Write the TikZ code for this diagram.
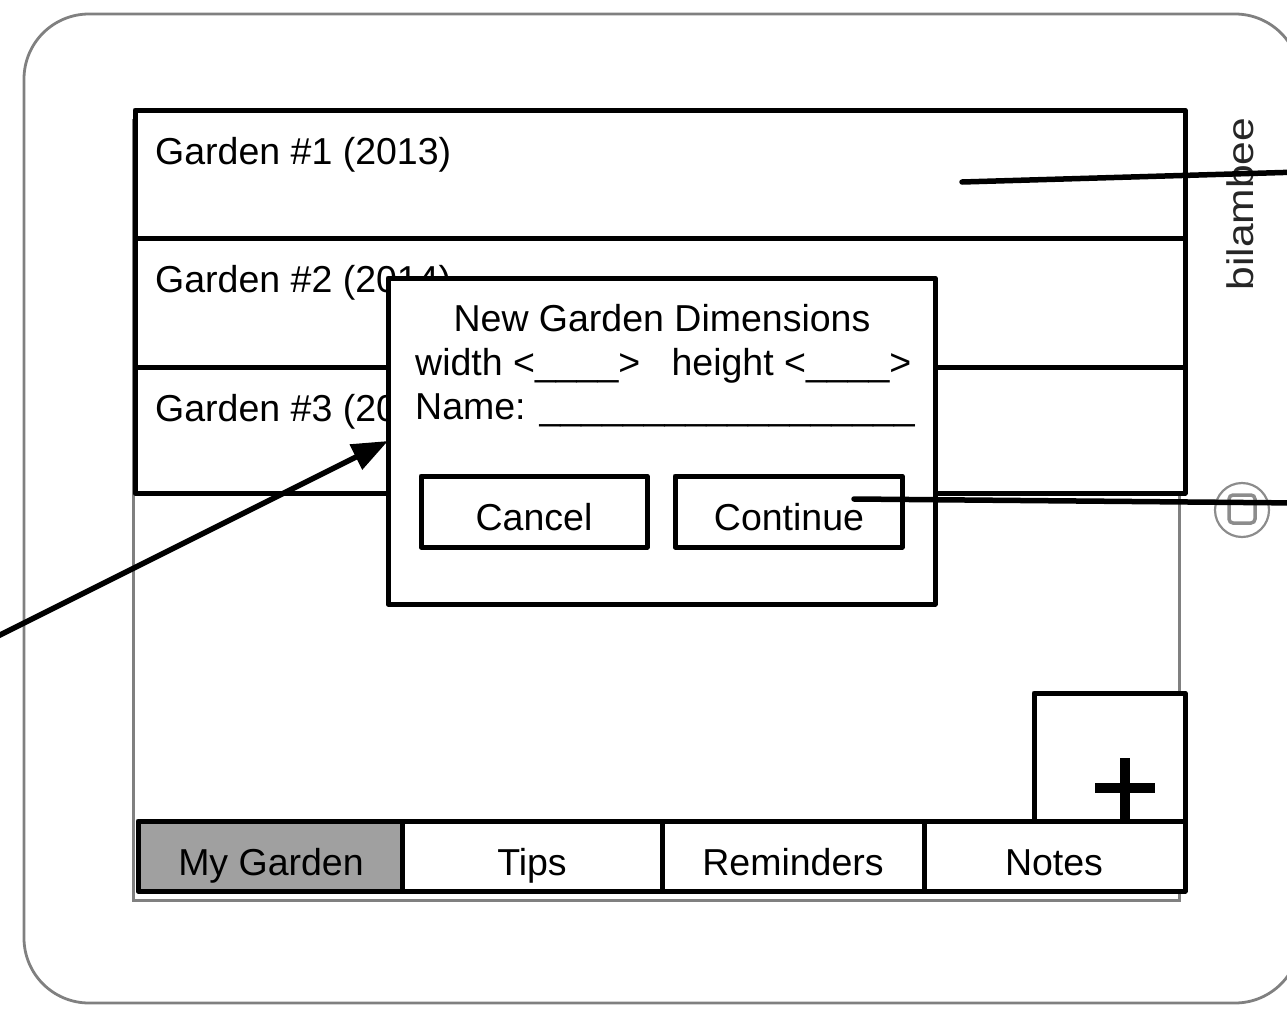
\documentclass[tikz,border=0pt]{standalone}
\usepackage{fontspec}
\setmainfont{Liberation Sans}
\usetikzlibrary{arrows.meta}
\begin{document}
\begin{tikzpicture}[x=1pt,y=-1pt,
  blk/.style={draw=black, line width=5pt, line join=round, inner sep=0pt, outer sep=0pt, anchor=north west},
  lbl/.style={font=\fontsize{37.5}{40}\selectfont, inner sep=0pt, anchor=base west},
  lblc/.style={font=\fontsize{37.5}{40}\selectfont, inner sep=0pt, anchor=base},
  conn/.style={draw=black, line width=5.5pt, line cap=round},
  devline/.style={draw=gray, line width=2.8pt}
]
\useasboundingbox (0,0) rectangle (1287,1009);
% tablet body
\draw[devline, rounded corners=65pt] (24,14) rectangle (1300,1003);
% screen
\draw[devline, line width=3pt] (133,120) rectangle (1179,900);
% home button
\draw[draw=gray!90, line width=2.2pt] (1242,510) circle (27pt);
\draw[draw=gray!90, line width=3.5pt, rounded corners=4pt] (1229,495) rectangle (1255,523);
% brand
\node[rotate=90, font=\fontsize{37}{40}\selectfont, text=black!85, inner sep=0pt] (brand) at (1240,204) {\scalebox{1.15}[1]{bilambee}};
% garden list
\node[blk, fill=white, minimum width=1050pt, minimum height=128pt] (row1) at (135,110) {};
\node[blk, fill=white, minimum width=1050pt, minimum height=129pt] (row2) at (135,238) {};
\node[blk, fill=white, minimum width=1050pt, minimum height=126pt] (row3) at (135,367) {};
\node[lbl] (g1) at (155,164) {Garden \#1 (2013)};
\node[lbl] (g2) at (155,292) {Garden \#2 (2014)};
\node[lbl] (g3) at (155,421) {Garden \#3 (2015)};
% plus box
\node[blk, fill=white, minimum width=151pt, minimum height=128pt] (plusbox) at (1034,693) {};
\fill[black] (1120,758) rectangle (1130,822);
\fill[black] (1095,783) rectangle (1155,793);
% tab bar
\node[blk, fill={rgb,255:red,160;green,160;blue,160}, minimum width=264pt, minimum height=70pt] (tab1) at (138,821) {};
\node[blk, fill=white, minimum width=260pt, minimum height=70pt] (tab2) at (402,821) {};
\node[blk, fill=white, minimum width=262pt, minimum height=70pt] (tab3) at (662,821) {};
\node[blk, fill=white, minimum width=261pt, minimum height=70pt] (tab4) at (924,821) {};
\node[lblc] (t1) at (271,875) {My Garden};
\node[lblc] (t2) at (532,875) {Tips};
\node[lblc] (t3) at (793,875) {Reminders};
\node[lblc] (t4) at (1054,875) {Notes};
% dialog
\node[blk, fill=white, minimum width=547pt, minimum height=326pt] (dlg) at (388,278) {};
\node[lblc] (dtitle) at (662,331) {New Garden Dimensions};
\node[lbl] (dwidth) at (415,375) {width <\_\_\_\_>\ \ \ height <\_\_\_\_>};
\node[lbl] (dname) at (415,419) {Name: \_\_\_\_\_\_\_\_\_\_\_\_\_\_\_\_\_\_};
\node[blk, fill=white, minimum width=226pt, minimum height=71pt] (cancel) at (421,476) {};
\node[blk, fill=white, minimum width=227pt, minimum height=71pt] (cont) at (675,476) {};
\node[lblc] (lcancel) at (534,530) {Cancel};
\node[lblc] (lcont) at (789,530) {Continue};
% connectors
\coordinate (c1s) at (962,182);
\coordinate (c1e) at (1300,172);
\coordinate (c2s) at (854,499);
\coordinate (c2e) at (1300,503);
\coordinate (c3s) at (-10,640);
\draw[conn] (c1s) -- (c1e);
\draw[conn] (c2s) -- (c2e);
\draw[conn, -{Triangle[length=36pt,width=27pt]}] (c3s) -- (dlg.west);
\end{tikzpicture}
\end{document}
